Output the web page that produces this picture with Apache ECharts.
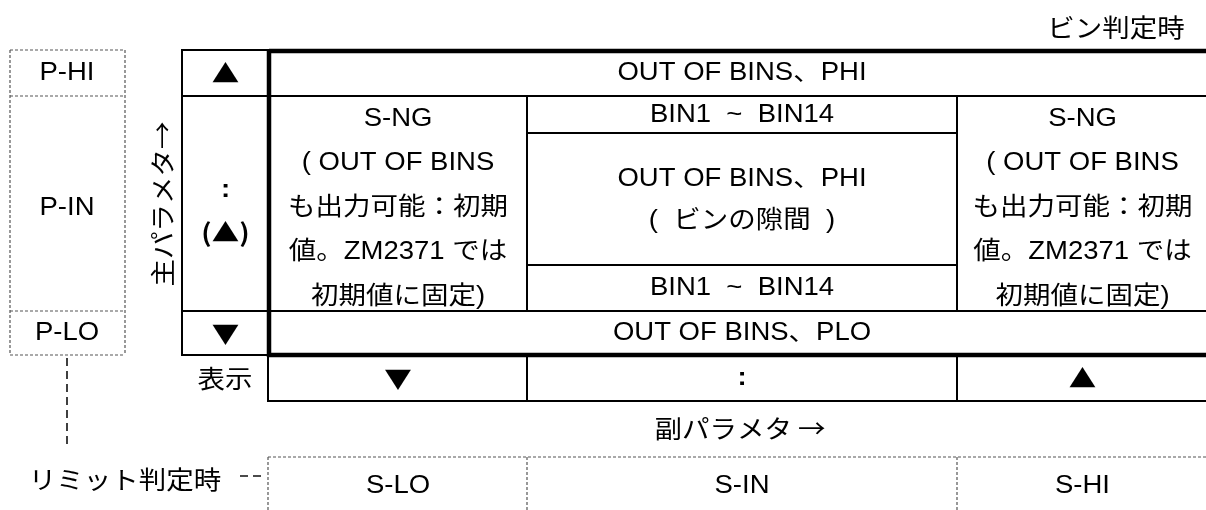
<!DOCTYPE html>
<html><head><meta charset="utf-8">
<script src="https://cdn.jsdelivr.net/npm/echarts@6/dist/echarts.min.js"></script>
<style>html,body{margin:0;padding:0;background:#fff}#c{width:1206px;height:510px}</style>
</head><body><div id="c"></div>
<script>
// ---- content ----
const captionTop = 'ビン判定時';
const primaryLimit = ['P-HI', 'P-IN', 'P-LO'];
const primaryDisplay = ['▲', ':', '(▲)', '▼'];
const secondaryLimit = ['S-LO', 'S-IN', 'S-HI'];
const secondaryDisplay = ['▼', ':', '▲'];
const outTop = 'OUT OF BINS、PHI';
const outBottom = 'OUT OF BINS、PLO';
const binRange = 'BIN1  ~  BIN14';
const gapLines = ['OUT OF BINS、PHI', '(  ビンの隙間  )'];
const sngLines = ['S-NG', '( OUT OF BINS', 'も出力可能：初期', '値。ZM2371 では', '初期値に固定)'];
const axisPrimary = '主パラメタ→';
const axisSecondary = '副パラメタ →';
const displayLabel = '表示';
const limitLabel = 'リミット判定時';

// ---- layout (canvas units) ----
const X = {limL: 10, limR: 125, limMid: 67, axisP: 162, t0: 182, t1: 269, t2: 527, t3: 957, t4: 1212};
const Y = {top: 50, r1: 96, b1: 133, b2: 265, r2: 311, r3: 355, disp: 401, axisS: 428, lim: 457, bot: 540};
const LATIN = '"Liberation Sans", Arial, "Noto Sans CJK JP", sans-serif';
const CJK = '"Noto Sans CJK JP", "Liberation Sans", sans-serif';
const FS = 25, SX = 1.1;
const cL = (X.t0 + X.t1) / 2, cA = (X.t1 + X.t2) / 2, cB = (X.t2 + X.t3) / 2, cC = (X.t3 + X.t4) / 2;

// segments: [x1,y1,x2,y2,kind]  kind: 'thin','thick','dashF','dashL'
const segs = [];
function S(x1, y1, x2, y2, k) { segs.push([x1, y1, x2, y2, k]); }
S(X.t0, Y.top, X.t1, Y.top, 'thin');
S(X.t1, Y.top + 1, X.t4, Y.top + 1, 'thick');
S(X.t0, Y.r1, X.t4, Y.r1, 'thin');
S(X.t2, Y.b1, X.t3, Y.b1, 'thin');
S(X.t2, Y.b2, X.t3, Y.b2, 'thin');
S(X.t0, Y.r2, X.t4, Y.r2, 'thin');
S(X.t0, Y.r3, X.t1, Y.r3, 'thin');
S(X.t1, Y.r3, X.t4, Y.r3, 'thick');
S(X.t1 - 1, Y.disp, X.t4, Y.disp, 'thin');
S(X.t0, Y.top - 1, X.t0, Y.r3 + 1, 'thin');
S(X.t1, Y.top - 1, X.t1, Y.r3 + 2, 'thick');
S(X.t1 - 1, Y.r3, X.t1 - 1, Y.disp + 1, 'thin');
S(X.t2, Y.r1, X.t2, Y.r2, 'thin');
S(X.t2, Y.r3, X.t2, Y.disp, 'thin');
S(X.t3, Y.r1, X.t3, Y.r2, 'thin');
S(X.t3, Y.r3, X.t3, Y.disp, 'thin');
// limit-judgement dashed boxes
S(X.limL, Y.top, X.limR, Y.top, 'dashF');
S(X.limL, Y.r1, X.limR, Y.r1, 'dashF');
S(X.limL, Y.r2, X.limR, Y.r2, 'dashF');
S(X.limL, Y.r3, X.limR, Y.r3, 'dashF');
S(X.limL, Y.top, X.limL, Y.r3, 'dashF');
S(X.limR, Y.top, X.limR, Y.r3, 'dashF');
S(X.t1 - 1, Y.lim, X.t4, Y.lim, 'dashF');
S(X.t1 - 1, Y.lim, X.t1 - 1, Y.bot, 'dashF');
S(X.t2, Y.lim, X.t2, Y.bot, 'dashF');
S(X.t3, Y.lim, X.t3, Y.bot, 'dashF');
S(X.limMid, Y.r3 + 3, X.limMid, 447, 'dashL');
S(240, 476, 266, 476, 'dashL');

// texts: [x, y, text, bold, rotate, fontKind]
const texts = [];
function T(x, y, t, b, r, f) { texts.push([x, y, t, b ? 1 : 0, r || 0, f || 'latin']); }
T(1116, 27, captionTop, false, 0, 'cjk');
T(X.limMid, 73, primaryLimit[0]);
T(X.limMid, 208, primaryLimit[1]);
T(X.limMid, 333, primaryLimit[2]);
T(cL, 73, primaryDisplay[0], false, 0, 'cjk');
T(cL, 190, primaryDisplay[1], true);
T(cL, 232, primaryDisplay[2], true, 0, 'cjk');
T(cL, 333, primaryDisplay[3], false, 0, 'cjk');
T(cB, 73, outTop);
T(cB, 333, outBottom);
T(cB, 115, binRange);
T(cB, 288, binRange);
gapLines.forEach((t, i) => T(cB, 179 + i * 42, t));
sngLines.forEach((t, i) => { T(cA, 119 + i * 44.5, t); T(cC - 2, 119 + i * 44.5, t); });
T(225, 378, displayLabel, false, 0, 'cjk');
T(cA, 378, secondaryDisplay[0], false, 0, 'cjk');
T(cB, 378, secondaryDisplay[1], true);
T(cC - 2, 378, secondaryDisplay[2], false, 0, 'cjk');
T(740, 428, axisSecondary, false, 0, 'cjk');
T(X.axisP, 204, axisPrimary, false, Math.PI / 2, 'cjk');
T(125, 479, limitLabel, false, 0, 'cjk');
T((X.t1 + X.t2) / 2, 486, secondaryLimit[0]);
T(cB, 486, secondaryLimit[1]);
T(cC - 2, 486, secondaryLimit[2]);

const chart = echarts.init(document.getElementById('c'), null, {renderer: 'canvas'});
const styleOf = {
  thin: {stroke: '#000', lineWidth: 2},
  thick: {stroke: '#000', lineWidth: 4.5},
  dashF: {stroke: '#555', lineWidth: 1.2, lineDash: [3, 2]},
  dashL: {stroke: '#111', lineWidth: 1.6, lineDash: [8, 5]}
};
chart.setOption({
  animation: false,
  backgroundColor: '#fff',
  grid: {left: 0, right: 0, top: 0, bottom: 0},
  xAxis: {type: 'value', min: 0, max: 1206, show: false},
  yAxis: {type: 'value', min: 0, max: 510, inverse: true, show: false},
  series: [
    {
      type: 'custom', clip: false, silent: true,
      data: segs,
      renderItem: function (params, api) {
        const d = segs[params.dataIndex];
        const p1 = api.coord([d[0], d[1]]), p2 = api.coord([d[2], d[3]]);
        return {type: 'line', shape: {x1: p1[0], y1: p1[1], x2: p2[0], y2: p2[1]}, style: Object.assign({}, styleOf[d[4]])};
      }
    },
    {
      type: 'custom', clip: false, silent: true,
      data: texts,
      renderItem: function (params, api) {
        const d = texts[params.dataIndex];
        const p = api.coord([d[0], d[1]]);
        return {
          type: 'text', x: p[0], y: p[1], scaleX: SX, rotation: d[4],
          style: {
            text: d[2], x: 0, y: 0, fill: '#000',
            font: (d[3] ? 'bold ' : '') + FS + 'px ' + (d[5] === 'cjk' ? CJK : LATIN),
            align: 'center', textAlign: 'center', verticalAlign: 'middle', textVerticalAlign: 'middle'
          }
        };
      }
    }
  ]
});
</script>
</body></html>
